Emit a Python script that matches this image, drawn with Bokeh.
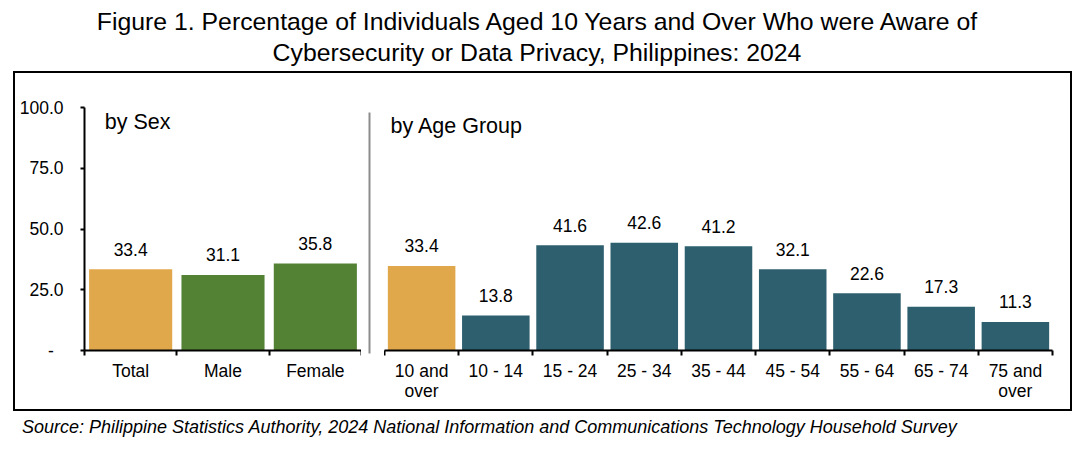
from bokeh.plotting import figure
from bokeh.models import (ColumnDataSource, Range1d, LinearAxis, FixedTicker, LabelSet, Label,
                          Div, PrintfTickFormatter)
from bokeh.core.properties import value
from bokeh.layouts import column, row
from bokeh.embed import file_html
from bokeh.resources import INLINE

# ---------------- data ----------------
sex_categories = ["Total", "Male", "Female"]
sex_values = [33.4, 31.1, 35.8]
age_categories = ["10 and\nover", "10 - 14", "15 - 24", "25 - 34", "35 - 44",
                  "45 - 54", "55 - 64", "65 - 74", "75 and\nover"]
age_values = [33.4, 13.8, 41.6, 42.6, 41.2, 32.1, 22.6, 17.3, 11.3]
y_ticks = [0, 25, 50, 75, 100]

GOLD = "#E1A84B"
GREEN = "#548235"
TEAL = "#2D5F6E"
sex_colors = [GOLD, GREEN, GREEN]
age_colors = [GOLD] + [TEAL] * 8

FONT = "Liberation Sans"
FS = "17.5px"

title_text = ("Figure 1. Percentage of Individuals Aged 10 Years and Over Who were Aware of<br>"
              "Cybersecurity or Data Privacy, Philippines: 2024")
source_text = ("Source: Philippine Statistics Authority, 2024 National Information and "
               "Communications Technology Household Survey")

TOP, BOTTOM = 34, 59


def panel(cats, vals, colors, width, ymax, min_left, min_right, bar_w, label_text, lx, ly):
    n = len(cats)
    centers = [i + 0.5 for i in range(n)]
    src = ColumnDataSource(dict(x=centers, cat=cats, val=vals, color=colors,
                                lbl=[f"{v:.1f}" for v in vals]))
    p = figure(x_range=Range1d(0, n), y_range=Range1d(0, ymax), title=None,
               width=width, height=336, output_backend="svg", toolbar_location=None,
               x_axis_location=None, y_axis_location=None,
               min_border_left=min_left, min_border_right=min_right,
               min_border_top=TOP, min_border_bottom=BOTTOM)
    p.frame_align = False
    p.outline_line_color = None
    p.xgrid.visible = False
    p.ygrid.visible = False
    p.background_fill_color = None
    p.border_fill_color = None

    p.vbar(x="x", top="val", width=bar_w, color="color", line_color=None, source=src)

    xaxis = LinearAxis(ticker=FixedTicker(ticks=centers, minor_ticks=list(range(n + 1))),
                       axis_line_width=2, axis_line_color="black",
                       major_tick_line_color=None, major_tick_out=0, major_tick_in=0,
                       minor_tick_out=5, minor_tick_in=0, minor_tick_line_width=2,
                       minor_tick_line_color="black",
                       major_label_overrides={c: lab for c, lab in zip(centers, cats)},
                       major_label_standoff=5,
                       major_label_text_line_height=1.0,
                       major_label_text_font=FONT, major_label_text_font_size=FS,
                       major_label_text_color="black")
    p.add_layout(xaxis, "below")

    labels = LabelSet(x="x", y="val", text="lbl", source=src, text_align="center",
                      text_baseline="alphabetic", y_offset=13.5, text_font=value(FONT),
                      text_font_size=value(FS), text_color="black")
    p.add_layout(labels)
    p.add_layout(Label(x=lx, y=ly, text=label_text,
                       text_font=FONT, text_font_size="21.5px", text_color="black",
                       text_baseline="alphabetic"))
    return p


left = panel(sex_categories, sex_values, sex_colors, 346, 100, 69, 0, 0.9, "by Sex", 0.22, 93.9)
yaxis = LinearAxis(ticker=FixedTicker(ticks=y_ticks, minor_ticks=[]),
                   formatter=PrintfTickFormatter(format="%.1f"),
                   axis_line_width=2, axis_line_color="black",
                   major_tick_out=4, major_tick_in=0, major_tick_line_width=2,
                   major_tick_line_color="black", minor_tick_line_color=None,
                   major_label_standoff=17, major_label_text_font=FONT,
                   major_label_text_font_size=FS, major_label_text_color="black",
                   major_label_overrides={0: "-\u2007"})
left.add_layout(yaxis, "left")

right = panel(age_categories, age_values, age_colors, 686, 96, 0, 18, 0.91,
              "by Age Group", 0.08, 88.6)

# divider between the two panels
spacer = figure(width=23, height=336, output_backend="svg", toolbar_location=None, title=None,
                x_range=Range1d(0, 1), y_range=Range1d(0, 1),
                x_axis_location=None, y_axis_location=None,
                min_border_left=8, min_border_right=0, min_border_top=39, min_border_bottom=56)
spacer.frame_align = False
spacer.outline_line_color = None
spacer.xgrid.visible = False
spacer.ygrid.visible = False
spacer.background_fill_color = None
spacer.border_fill_color = None
div_axis = LinearAxis(ticker=FixedTicker(ticks=[], minor_ticks=[]), axis_line_color="#8C8C8C",
                      axis_line_width=2, major_tick_out=0, major_tick_in=0,
                      major_tick_line_color=None, minor_tick_line_color=None,
                      major_label_standoff=0, major_label_text_font_size="0px")
spacer.add_layout(div_axis, "left")

title = Div(text=(f'<div style="width:1074px;text-align:center;font-family:\'{FONT}\';'
                  f'font-size:24.8px;line-height:30.5px;padding-top:7px;color:black">{title_text}</div>'),
            width=1080, height=73, margin=0)
box = row(left, spacer, right, spacing=0, margin=(0, 0, 0, 15),
          styles={"outline": "2px solid black"})
source = Div(text=(f'<div style="padding-left:22px;padding-top:8px;font-family:\'{FONT}\';'
                   f'font-style:italic;font-size:18px;line-height:20px;color:black">{source_text}</div>'),
             width=1080, height=40, margin=0)

layout = column(title, box, source, spacing=0)

with open("out.html", "w") as f:
    f.write(file_html(layout, INLINE))
